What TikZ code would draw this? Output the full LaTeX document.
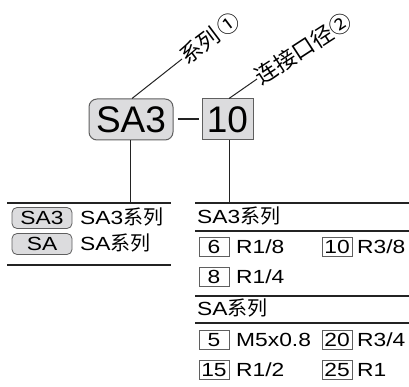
\documentclass[tikz,border=0pt]{standalone}
\usepackage{fontspec}
\setmainfont{Liberation Sans}
\newfontfamily\wsans[FakeStretch=1.2]{Liberation Sans}
\newfontfamily\cjk{Noto Sans CJK SC}
\newcommand{\zh}[1]{{\fontsize{20}{20}\selectfont\cjk #1}}
\definecolor{boxgray}{RGB}{220,220,222}
\definecolor{edgegray}{RGB}{95,95,95}
\definecolor{inkline}{RGB}{35,35,35}

\begin{document}
\begin{tikzpicture}[x=1pt, y=-1pt,
	bigbox/.style={draw=edgegray, fill=boxgray, line width=1pt, inner sep=0pt, minimum height=41pt, text height=26.5pt, text depth=0pt, font=\fontsize{37}{37}\selectfont},
	badge/.style={draw=edgegray, fill=boxgray, line width=0.8pt, rounded corners=5pt, inner sep=0pt, minimum width=60pt, minimum height=21pt, text height=13.6pt, text depth=0pt, font=\fontsize{19}{19}\selectfont\wsans},
	numbox/.style={draw=edgegray, line width=0.8pt, inner sep=0pt, minimum width=30pt, minimum height=19pt, text height=13.6pt, text depth=0pt, font=\fontsize{19}{19}\selectfont\wsans},
	txt/.style={anchor=west, inner sep=0pt, text height=13.6pt, text depth=0pt, font=\fontsize{19}{19}\selectfont\wsans},
	tag/.style={anchor=west, inner sep=0pt, font=\fontsize{22}{22}\selectfont\cjk},
	rule/.style={draw=inkline, line width=1.2pt},
	lead/.style={draw=inkline, line width=1pt}]
				\useasboundingbox (0,0) rectangle (409,387);
				
				% model code
				\node[bigbox, rounded corners=8pt, minimum width=84pt] (sa3) at (131,119.5) {SA3};
				\node[bigbox, minimum width=51pt] (size10) at (227.5,119.5) {10};
				\draw[inkline, line width=2pt] ([xshift=4pt]sa3.east) -- ([xshift=-3pt]size10.west);
				
				% leaders
				\node[tag, rotate=37] (tag1) at (182,59) {系列\hspace{3pt}①};
				\node[tag, rotate=33] (tag2) at (257,79) {连接口径②};
				\path[lead] ([xshift=1pt]sa3.north) -- (tag1.west);
				\path[lead] ([xshift=1.5pt]size10.north) -- (tag2.west);
				
				% left table
				\coordinate (l1a) at (7,203);
				\coordinate (l1b) at (171,203);
				\coordinate (l2a) at (7,265);
				\coordinate (l2b) at (171,265);
				\path[rule] (l1a) -- (l1b);
				\path[rule] (l2a) -- (l2b);
				\path[lead] ([xshift=-1pt]sa3.south) -- ([xshift=-1pt]sa3.south |- l1a);
				\node[badge] (bsa3) at (42,218) {SA3};
				\node[badge] (bsa) at (42,244) {SA};
				\node[txt] (tsa3) at (80,218) {SA3\zh{系列}};
				\node[txt] (tsa) at (80,244) {SA\zh{系列}};
				
				% right table
				\coordinate (r1a) at (195,203);
				\coordinate (r1b) at (409,203);
				\coordinate (r2a) at (195,231);
				\coordinate (r2b) at (409,231);
				\coordinate (r3a) at (195,296);
				\coordinate (r3b) at (409,296);
				\coordinate (r4a) at (195,323);
				\coordinate (r4b) at (409,323);
				\path[rule] (r1a) -- (r1b);
				\path[rule] (r2a) -- (r2b);
				\path[rule] (r3a) -- (r3b);
				\path[rule] (r4a) -- (r4b);
				\path[lead] ([xshift=1.5pt]size10.south) -- ([xshift=1.5pt]size10.south |- r1a);
				
				\node[txt] (hsa3) at (197,217) {SA3\zh{系列}};
				\node[numbox] (n6) at (214,246.5) {6};
				\node[txt] (p6) at (236,246.5) {R1/8};
				\node[numbox] (n10) at (337,246.5) {10};
				\node[txt] (p10) at (357,246.5) {R3/8};
				\node[numbox] (n8) at (214,277) {8};
				\node[txt] (p8) at (236,277) {R1/4};
				
				\node[txt] (hsa) at (197,309) {SA\zh{系列}};
				\node[numbox] (n5) at (214,340) {5};
				\node[txt] (p5) at (236,340) {M5x0.8};
				\node[numbox] (n20) at (337,340) {20};
				\node[txt] (p20) at (357,340) {R3/4};
				\node[numbox] (n15) at (214,370) {15};
				\node[txt] (p15) at (236,370) {R1/2};
				\node[numbox] (n25) at (337,370) {25};
				\node[txt] (p25) at (357,370) {R1};
\end{tikzpicture}
\end{document}
